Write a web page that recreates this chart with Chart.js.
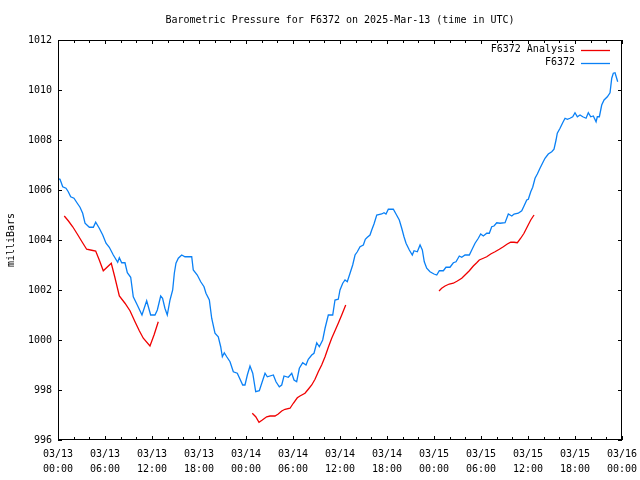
<!DOCTYPE html>
<html>
<head>
<meta charset="utf-8">
<script src="https://cdn.jsdelivr.net/npm/chart.js@4/dist/chart.umd.min.js"></script>
<style>
  body { margin: 0; background: #fff; }
  canvas { display: block; }
</style>
</head>
<body>
<canvas id="myChart" width="640" height="480"></canvas>
<script>
// hours since 03/13 00:00 UTC
const pressTimes = [
  0, 0.26, 0.6, 1.02, 1.31, 1.62, 2.04, 2.46, 2.81, 3.15, 3.45, 4.0, 4.51, 4.81, 5.27, 5.71,
  6.13, 6.55, 7.06, 7.62, 7.83, 8.13, 8.55, 8.85, 9.28, 9.61, 10.12, 10.72, 11.32, 11.83, 12.38, 12.68,
  13.11, 13.35, 13.65, 13.95, 14.3, 14.64, 14.85, 15.06, 15.36, 15.79, 16.21, 17.07, 17.27, 17.78, 18.22, 18.64,
  18.89, 19.32, 19.62, 20.04, 20.46, 20.77, 20.98, 21.23, 21.54, 21.96, 22.38, 22.89, 23.58, 23.87, 24.17, 24.51,
  24.86, 25.24, 25.7, 26.01, 26.43, 26.72, 27.49, 27.83, 28.25, 28.56, 28.85, 29.4, 29.84, 30.13, 30.47, 30.81,
  31.24, 31.66, 31.95, 32.39, 32.68, 33.03, 33.36, 33.79, 34.09, 34.51, 35.07, 35.36, 35.78, 36.0, 36.35, 36.64,
  36.93, 37.28, 37.62, 37.92, 38.21, 38.56, 38.98, 39.23, 39.49, 39.83, 40.05, 40.34, 40.69, 41.33, 41.62, 41.87,
  42.17, 42.81, 43.15, 43.57, 43.88, 44.17, 44.43, 44.85, 45.23, 45.45, 45.87, 46.22, 46.51, 46.76, 47.07, 47.49,
  48.0, 48.35, 48.68, 49.19, 49.53, 50.04, 50.47, 50.81, 51.23, 51.54, 51.96, 52.51, 52.82, 53.24, 53.66, 53.96,
  54.3, 54.73, 55.06, 55.37, 55.66, 56.01, 56.43, 57.07, 57.49, 57.93, 58.22, 58.76, 59.2, 59.49, 59.84, 60.04,
  60.35, 60.6, 60.9, 61.19, 61.53, 61.88, 62.17, 62.59, 63.03, 63.32, 63.58, 63.74, 64.09, 64.43, 64.73, 65.02,
  65.36, 65.71, 66.0, 66.3, 66.64, 66.99, 67.41, 67.7, 68.01, 68.34, 68.69, 68.85, 69.11, 69.41, 69.71, 70.13,
  70.47, 70.69, 70.89, 71.11, 71.32, 71.45
];
const pressValues = [
  1006.45, 1006.43, 1006.13, 1006.07, 1005.93, 1005.73, 1005.67, 1005.47, 1005.31, 1005.07, 1004.67, 1004.51, 1004.51, 1004.71, 1004.47, 1004.2,
  1003.87, 1003.71, 1003.4, 1003.11, 1003.29, 1003.09, 1003.09, 1002.69, 1002.51, 1001.73, 1001.4, 1001.0, 1001.57, 1001.0, 1001.0, 1001.2,
  1001.76, 1001.67, 1001.27, 1001.0, 1001.6, 1002.0, 1002.67, 1003.07, 1003.27, 1003.4, 1003.33, 1003.33, 1002.8, 1002.6, 1002.33, 1002.13,
  1001.87, 1001.6, 1000.87, 1000.27, 1000.13, 999.73, 999.33, 999.49, 999.33, 999.13, 998.73, 998.67, 998.2, 998.2, 998.6, 998.96,
  998.67, 997.93, 997.97, 998.27, 998.67, 998.53, 998.6, 998.33, 998.13, 998.2, 998.56, 998.51, 998.67, 998.4, 998.33, 998.87,
  999.09, 999.0, 999.23, 999.4, 999.47, 999.89, 999.73, 1000.0, 1000.47, 1001.0, 1001.0, 1001.6, 1001.63, 1002.0, 1002.27, 1002.4,
  1002.33, 1002.67, 1003.0, 1003.4, 1003.53, 1003.73, 1003.8, 1004.03, 1004.11, 1004.2, 1004.4, 1004.64, 1005.0, 1005.04, 1005.09, 1005.04,
  1005.23, 1005.23, 1005.04, 1004.8, 1004.47, 1004.13, 1003.87, 1003.6, 1003.4, 1003.57, 1003.53, 1003.8, 1003.6, 1003.13, 1002.87, 1002.73,
  1002.64, 1002.6, 1002.77, 1002.77, 1002.91, 1002.91, 1003.09, 1003.13, 1003.36, 1003.31, 1003.4, 1003.4, 1003.6, 1003.87, 1004.07, 1004.24,
  1004.16, 1004.27, 1004.27, 1004.53, 1004.56, 1004.69, 1004.67, 1004.69, 1005.04, 1004.96, 1005.04, 1005.07, 1005.17, 1005.36, 1005.6, 1005.63,
  1005.93, 1006.11, 1006.47, 1006.64, 1006.87, 1007.09, 1007.27, 1007.44, 1007.53, 1007.63, 1008.0, 1008.27, 1008.47, 1008.69, 1008.87, 1008.83,
  1008.87, 1008.93, 1009.09, 1008.93, 1009.0, 1008.93, 1008.87, 1009.09, 1008.93, 1008.96, 1008.73, 1008.93, 1008.93, 1009.4, 1009.6, 1009.73,
  1009.89, 1010.47, 1010.67, 1010.69, 1010.47, 1010.33
];

// analysis runs, null marks the gap between runs
const anaTimes = [
  0.8, 1.31, 1.88, 2.46, 3.06, 3.66, 4.3, 4.81, 5.27, 5.78, 6.8, 7.24, 7.83, 8.55, 9.19, 9.83, 10.38, 10.89, 11.74, 12.26, 12.8,
  18,
  24.8, 25.24, 25.66, 26.08, 26.64, 27.07, 27.7, 28.12, 28.56, 28.98, 29.62, 30.04, 30.55, 30.89, 31.53, 31.95, 32.39, 32.81,
  33.23, 33.66, 34.09, 34.51, 34.94, 35.36, 35.78, 36.22, 36.73,
  42,
  48.64, 48.98, 49.41, 49.95, 50.47, 50.98, 51.54, 51.96, 52.51, 53.02, 53.45, 53.78, 54.3, 54.73, 55.24, 55.79, 56.34, 56.85,
  57.36, 57.79, 58.22, 58.64, 59.07, 59.49, 59.91, 60.35, 60.77
];
const anaValues = [
  1004.96, 1004.77, 1004.53, 1004.24, 1003.93, 1003.63, 1003.59, 1003.56, 1003.2, 1002.77, 1003.07, 1002.53, 1001.76, 1001.47, 1001.17, 1000.73, 1000.37, 1000.07, 999.76, 1000.2, 1000.73,
  null,
  997.07, 996.93, 996.71, 996.8, 996.93, 996.96, 996.96, 997.04, 997.16, 997.23, 997.27, 997.47, 997.69, 997.76, 997.87, 998.03, 998.2, 998.43,
  998.73, 999.0, 999.33, 999.71, 1000.07, 1000.37, 1000.67, 1001.0, 1001.4,
  null,
  1001.96, 1002.07, 1002.16, 1002.24, 1002.27, 1002.36, 1002.47, 1002.6, 1002.77, 1002.96, 1003.09, 1003.2, 1003.27, 1003.33, 1003.44, 1003.53, 1003.63, 1003.73,
  1003.84, 1003.91, 1003.91, 1003.89, 1004.07, 1004.27, 1004.53, 1004.8, 1005.0
];

const xTickHours = [0, 6, 12, 18, 24, 30, 36, 42, 48, 54, 60, 66, 72];
const xTickDays = ['03/13', '03/13', '03/13', '03/13', '03/14', '03/14', '03/14', '03/14', '03/15', '03/15', '03/15', '03/15', '03/16'];
const xTickClock = ['00:00', '06:00', '12:00', '18:00', '00:00', '06:00', '12:00', '18:00', '00:00', '06:00', '12:00', '18:00', '00:00'];
const yTicks = [996, 998, 1000, 1002, 1004, 1006, 1008, 1010, 1012];

const FONT = '10px "DejaVu Sans Mono", monospace';

// gnuplot-like frame, ticks, labels and key
const framePlugin = {
    id: 'frame',
    afterDraw(chart) {
        const { ctx, chartArea: a, scales } = chart;
        const x = scales.x, y = scales.y;
        ctx.save();
        ctx.strokeStyle = '#000';
        ctx.fillStyle = '#000';
        ctx.lineWidth = 1;
        ctx.font = FONT;

        ctx.strokeRect(a.left + 0.5, a.top + 0.5, a.right - a.left - 1, a.bottom - a.top - 1);

        ctx.beginPath();
        for (let h = 0; h <= 72; h += 2) {
            const px = Math.round(x.getPixelForValue(h)) + 0.5;
            const len = h % 6 === 0 ? 4 : 3;
            ctx.moveTo(px, a.bottom);
            ctx.lineTo(px, a.bottom - len);
            ctx.moveTo(px, a.top);
            ctx.lineTo(px, a.top + len);
        }
        yTicks.forEach(v => {
            const py = Math.round(y.getPixelForValue(v)) + 0.5;
            ctx.moveTo(a.left, py);
            ctx.lineTo(a.left + 4, py);
            ctx.moveTo(a.right, py);
            ctx.lineTo(a.right - 4, py);
        });
        ctx.stroke();

        ctx.textAlign = 'right';
        ctx.textBaseline = 'middle';
        yTicks.forEach(v => {
            ctx.fillText(String(v), a.left - 6, y.getPixelForValue(v));
        });

        ctx.textAlign = 'center';
        xTickHours.forEach((h, i) => {
            const px = x.getPixelForValue(h);
            ctx.fillText(xTickDays[i], px, a.bottom + 14);
            ctx.fillText(xTickClock[i], px, a.bottom + 29);
        });

        ctx.fillText('Barometric Pressure for F6372 on 2025-Mar-13 (time in UTC)', (a.left + a.right) / 2, 20);

        ctx.save();
        ctx.translate(11, (a.top + a.bottom) / 2);
        ctx.rotate(-Math.PI / 2);
        ctx.fillText('milliBars', 0, 0);
        ctx.restore();

        // key, top right
        ctx.textAlign = 'right';
        ctx.lineWidth = 1.3;
        chart.data.datasets.forEach((ds, i) => {
            const ky = a.top + 9.5 + i * 13;
            ctx.fillStyle = '#000';
            ctx.fillText(ds.label, a.right - 47, ky);
            ctx.strokeStyle = ds.borderColor;
            ctx.beginPath();
            ctx.moveTo(a.right - 41, Math.round(ky) + 0.5);
            ctx.lineTo(a.right - 12, Math.round(ky) + 0.5);
            ctx.stroke();
        });
        ctx.restore();
    }
};

const chart = new Chart(document.getElementById('myChart'), {
    type: 'line',
    data: {
        datasets: [
            {
                label: 'F6372 Analysis',
                data: anaTimes.map((t, i) => ({ x: t, y: anaValues[i] })),
                borderColor: '#f00000',
                borderWidth: 1.3,
                pointRadius: 0,
                spanGaps: false,
            },
            {
                label: 'F6372',
                data: pressTimes.map((t, i) => ({ x: t, y: pressValues[i] })),
                borderColor: '#0a80f5',
                borderWidth: 1.3,
                pointRadius: 0,
            },
        ],
    },
    options: {
        responsive: false,
        animation: false,
        layout: { padding: { left: 58, right: 18, top: 40, bottom: 40 } },
        plugins: {
            legend: { display: false },
            title: { display: false },
            tooltip: { enabled: false },
        },
        scales: {
            x: { type: 'linear', min: 0, max: 72, display: false },
            y: { min: 996, max: 1012, display: false },
        },
    },
    plugins: [framePlugin],
});
</script>
</body>
</html>
